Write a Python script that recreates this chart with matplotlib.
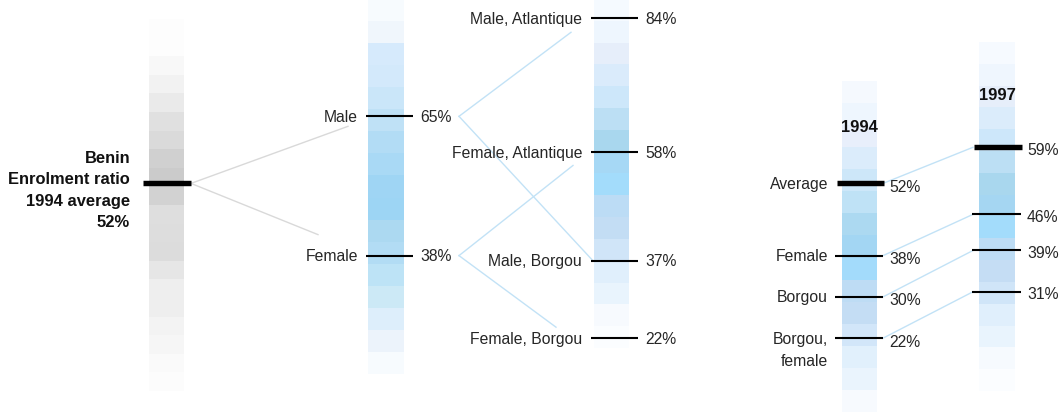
import matplotlib
matplotlib.use("Agg")
import matplotlib.pyplot as plt

plt.rcParams["font.family"] = ["Liberation Sans", "DejaVu Sans"]

# ---- data -------------------------------------------------------------
benin_title = "Benin\nEnrolment ratio\n1994 average\n52%"
benin_avg_1994 = 52

sex_labels = ["Male", "Female"]
sex_values = [65, 38]

dept_labels = ["Male, Atlantique", "Female, Atlantique", "Male, Borgou", "Female, Borgou"]
dept_values = [84, 58, 37, 22]
dept_parent = [0, 1, 0, 1]          # index into sex_values

compare_labels = ["Average", "Female", "Borgou", "Borgou,\nfemale"]
values_1994 = [52, 38, 30, 22]
values_1997 = [59, 46, 39, 31]
year_labels = ["1994", "1997"]

# ---- canvas: x in pixels, y in percent ---------------------------------
W, H = 1060, 414
Y_HI, Y_LO = 87.74, 7.50
PX_PER_PCT = H / (Y_HI - Y_LO)


def py(p):
    """pixel row -> percent on the shared vertical scale"""
    return Y_HI - p / PX_PER_PCT


def dpx(p):
    """pixel distance -> percent distance"""
    return p / PX_PER_PCT


fig = plt.figure(figsize=(W / 100, H / 100), dpi=100)
ax = fig.add_axes([0, 0, 1, 1])
ax.set_xlim(0, W)
ax.set_ylim(Y_LO, Y_HI)
ax.axis("off")

TXT = "#262626"
FS = 11.3
FS_BOLD = 11.9
GREY_LINK = "#d9d9d9"
BLUE_LINK = "#c2e2f6"

# ---- shaded columns ----------------------------------------------------
grey_cells = ["#fdfdfd", "#fdfdfd", "#f8f8f8", "#f2f2f2", "#eaeaea", "#e0e0e0",
              "#dadada", "#d0d0d0", "#cbcbcb", "#d2d2d2", "#dedede", "#dddddd",
              "#dcdcdc", "#e6e6e6", "#eeeeee", "#eeeeee", "#f3f3f3", "#f6f6f6",
              "#fafafa", "#fcfcfc"]
sex_cells = ["#f7fbfe", "#f0f6fc", "#d6eafc", "#d3e9fb", "#cae6f9", "#bfe1f6",
             "#b2dcf5", "#a9d9f5", "#9fd5f4", "#9dd5f4", "#acd9f1", "#b2dcf4",
             "#bde3f6", "#cce9f6", "#ddeefb", "#ecf3fb", "#f7fbfe"]
dept_cells = ["#f5faff", "#eef6fe", "#e6eefa", "#daebfb", "#cde7fa", "#bcdff4",
              "#a9d7ee", "#a6d8f5", "#a3dcfb", "#bcdcf5", "#c3ddf4", "#d0e5f8",
              "#e0effc", "#e9f4fd", "#f7fafe", "#fbfdff"]
y94_cells = ["#f5f9fe", "#eef6fe", "#e8effb", "#dbecfb", "#cde7f9", "#bfe2f6",
             "#acd9f1", "#a3d6f3", "#a3dbfb", "#bedcf4", "#c4ddf4", "#d2e6f9",
             "#e1f0fc", "#eaf4fd", "#f7fafe"]
y97_cells = ["#f6faff", "#eff6fe", "#e6eefa", "#dbecfb", "#cde7fa", "#bcdff4",
             "#a9d7ee", "#a5d6f2", "#a3dcfb", "#bddcf4", "#c5ddf4", "#d0e5f8",
             "#e0effc", "#e9f4fd", "#f6fafe", "#fbfdff"]


def column(x0, x1, top_px, bottom_px, colors):
    n = len(colors)
    step = (bottom_px - top_px) / n
    tops = [py(top_px + i * step) for i in range(n)]
    h = dpx(step) + dpx(0.3)
    ax.bar([(x0 + x1) / 2] * n, [h] * n, bottom=[t - h for t in tops],
           width=x1 - x0, color=colors, linewidth=0, zorder=1)


column(149, 184, 20, 392, grey_cells)
column(368, 404, 0, 375, sex_cells)
column(594, 629, 0, 349, dept_cells)
column(842, 877, 82, 413, y94_cells)
column(979, 1015, 43, 392, y97_cells)

THIN, THICK = 1.5, 3.9

# ---- national average --------------------------------------------------
ax.hlines(benin_avg_1994, 143, 191, color="black", lw=THICK, zorder=4)
ax.text(130, benin_avg_1994 - dpx(6), benin_title, ha="right", va="center",
        multialignment="right", fontsize=FS_BOLD, fontweight="bold",
        color="#111111", linespacing=1.52)

# grey links to the sex split
link_ends = [(348, dpx(-10)), (318, dpx(21))]
for v, (xe, off) in zip(sex_values, link_ends):
    ax.plot([191, xe], [benin_avg_1994, v + off], color=GREY_LINK, lw=1.0, zorder=2)

# ---- by sex ------------------------------------------------------------
ax.hlines(sex_values, 366, 413, color="black", lw=THIN, zorder=4)
for lab, v in zip(sex_labels, sex_values):
    ax.text(358, v, lab, ha="right", va="center", fontsize=FS, color=TXT)
    ax.text(420, v, f"{v}%", ha="left", va="center", fontsize=FS, color=TXT)

# blue links to sex × department
dept_link_ends = [(571, dpx(-14)), (573, dpx(-13)), (593, 0.0), (556, dpx(11))]
for v, parent, (xe, off) in zip(dept_values, dept_parent, dept_link_ends):
    ax.plot([459, xe], [sex_values[parent], v + off], color=BLUE_LINK,
            lw=1.0, zorder=2)

# ---- by sex and department -----------------------------------------------
ax.hlines(dept_values, 591, 638, color="black", lw=THIN, zorder=4)
for lab, v in zip(dept_labels, dept_values):
    ax.text(582, v, lab, ha="right", va="center", fontsize=FS, color=TXT)
    ax.text(645, v, f"{v}%", ha="left", va="center", fontsize=FS, color=TXT)

# ---- 1994 vs 1997 ----------------------------------------------------------
ax.text(859, py(128), year_labels[0], ha="center", va="center", fontsize=FS_BOLD,
        fontweight="bold", color="#111111", zorder=5)
ax.text(997, py(96), year_labels[1], ha="center", va="center", fontsize=FS_BOLD,
        fontweight="bold", color="#111111", zorder=5)

for i, (v94, v97) in enumerate(zip(values_1994, values_1997)):
    lw = THICK if i == 0 else THIN
    ax.hlines(v94, 837 if i == 0 else 835, 884 if i == 0 else 883,
              color="black", lw=lw, zorder=4)
    ax.hlines(v97, 974 if i == 0 else 972, 1022 if i == 0 else 1021,
              color="black", lw=lw, zorder=4)
    ax.plot([883, 973], [v94, v97], color=BLUE_LINK, lw=1.0, zorder=2)
    ax.text(889, v94 - dpx(3), f"{v94}%", ha="left", va="center", fontsize=FS,
            color=TXT, zorder=5)
    ax.text(1027, v97 - dpx(2), f"{v97}%", ha="left", va="center", fontsize=FS,
            color=TXT, zorder=5)

for lab, v in zip(compare_labels, values_1994):
    for j, line in enumerate(lab.split("\n")):
        ax.text(828, v - dpx(22 * j), line, ha="right", va="center",
                fontsize=FS, color=TXT)

fig.savefig("out.png", dpi=100)
